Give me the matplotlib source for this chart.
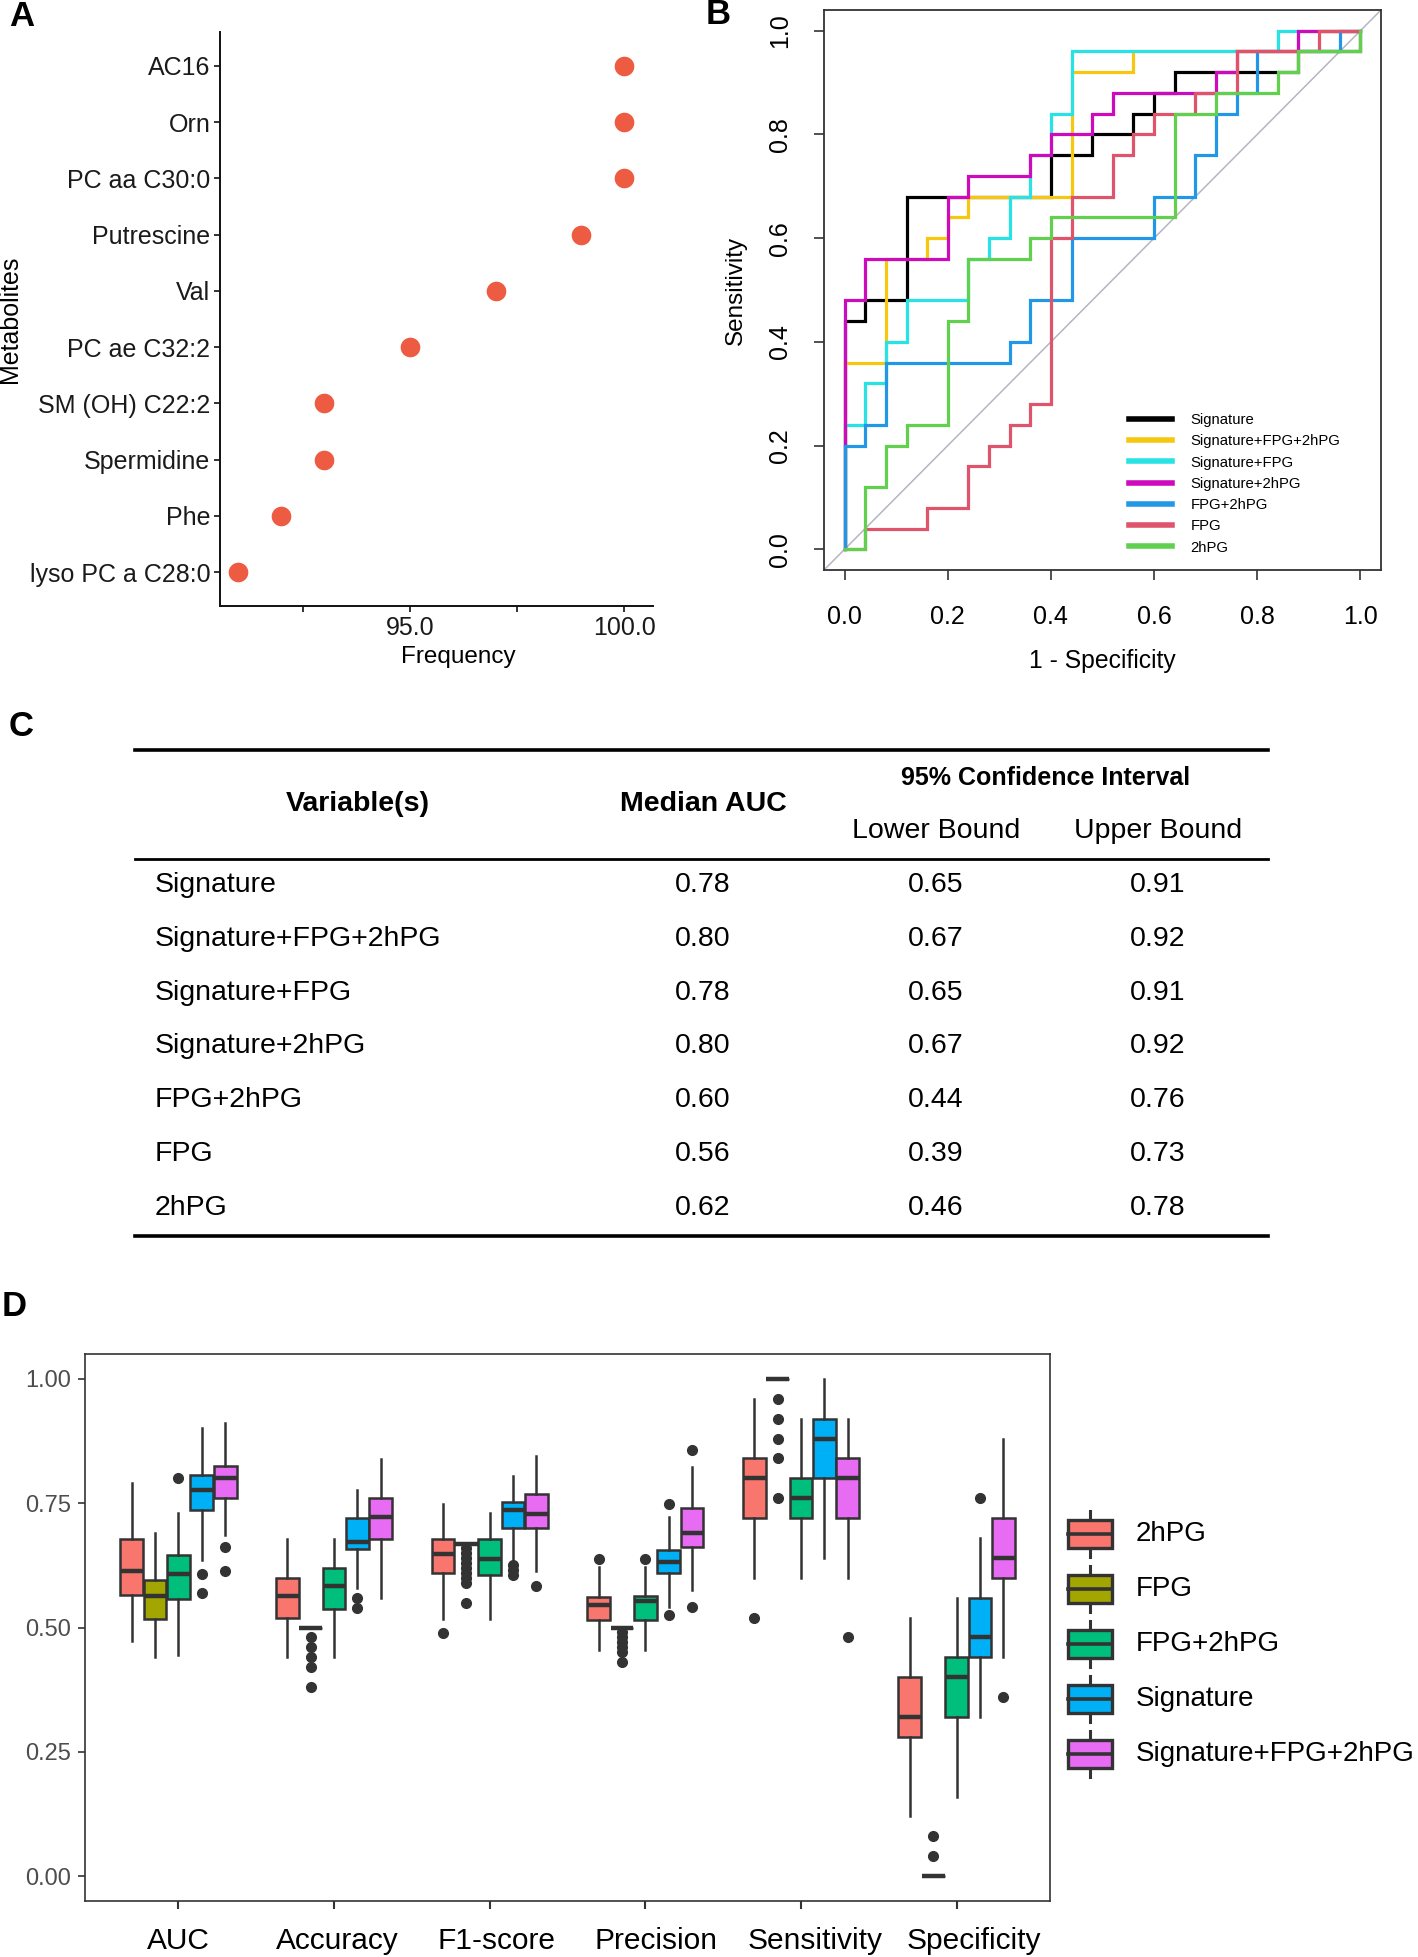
import matplotlib
matplotlib.use("Agg")
import matplotlib.pyplot as plt
from matplotlib.patches import Rectangle
from matplotlib.lines import Line2D
from matplotlib import font_manager, transforms
import numpy as np

plt.rcParams['font.family'] = ['Liberation Sans', 'DejaVu Sans']

W, H = 1418, 1957

# ---------------- Panel A data ----------------
metabolites = ['AC16', 'Orn', 'PC aa C30:0', 'Putrescine', 'Val', 'PC ae C32:2',
               'SM (OH) C22:2', 'Spermidine', 'Phe', 'lyso PC a C28:0']
frequency = [100, 100, 100, 99, 97, 95, 93, 93, 92, 91]
freq_ticks = [92.5, 95.0, 97.5, 100.0]
freq_ticklabels = ['', '95.0', '', '100.0']

# ---------------- Panel B data (ROC step vertices) ----------------
roc_names = ['Signature', 'Signature+FPG+2hPG', 'Signature+FPG', 'Signature+2hPG',
             'FPG+2hPG', 'FPG', '2hPG']
roc_colors = ['#000000', '#F5C710', '#28E2E5', '#CD0BBC', '#2297E6', '#DF536B', '#61D04F']
fpr_signature = [0, 0, 0.04, 0.04, 0.12, 0.12, 0.40, 0.40, 0.48, 0.48, 0.56, 0.56, 0.60, 0.60,
                 0.64, 0.64, 0.84, 0.84, 0.88, 0.88, 1.0, 1.0]
tpr_signature = [0, 0.44, 0.44, 0.48, 0.48, 0.68, 0.68, 0.76, 0.76, 0.80, 0.80, 0.84, 0.84, 0.88,
                 0.88, 0.92, 0.92, 0.92, 0.92, 0.96, 0.96, 1.0]
fpr_sig_fpg_2hpg = [0, 0, 0.08, 0.08, 0.16, 0.16, 0.20, 0.20, 0.24, 0.24, 0.44, 0.44, 0.56, 0.56,
                    0.88, 0.88, 1.0]
tpr_sig_fpg_2hpg = [0, 0.36, 0.36, 0.56, 0.56, 0.60, 0.60, 0.64, 0.64, 0.68, 0.68, 0.92, 0.92,
                    0.96, 0.96, 1.0, 1.0]
fpr_sig_fpg = [0, 0, 0.04, 0.04, 0.08, 0.08, 0.12, 0.12, 0.24, 0.24, 0.28, 0.28, 0.32, 0.32,
               0.36, 0.36, 0.40, 0.40, 0.44, 0.44, 0.84, 0.84, 1.0]
tpr_sig_fpg = [0, 0.24, 0.24, 0.32, 0.32, 0.40, 0.40, 0.48, 0.48, 0.56, 0.56, 0.60, 0.60, 0.68,
               0.68, 0.76, 0.76, 0.84, 0.84, 0.96, 0.96, 1.0, 1.0]
fpr_sig_2hpg = [0, 0, 0.04, 0.04, 0.20, 0.20, 0.24, 0.24, 0.36, 0.36, 0.40, 0.40, 0.48, 0.48,
                0.52, 0.52, 0.72, 0.72, 0.76, 0.76, 0.88, 0.88, 1.0]
tpr_sig_2hpg = [0, 0.48, 0.48, 0.56, 0.56, 0.68, 0.68, 0.72, 0.72, 0.76, 0.76, 0.80, 0.80, 0.84,
                0.84, 0.88, 0.88, 0.92, 0.92, 0.96, 0.96, 1.0, 1.0]
fpr_fpg_2hpg = [0, 0, 0.04, 0.04, 0.08, 0.08, 0.32, 0.32, 0.36, 0.36, 0.44, 0.44, 0.60, 0.60,
                0.68, 0.68, 0.72, 0.72, 0.76, 0.76, 0.80, 0.80, 0.96, 0.96, 1.0]
tpr_fpg_2hpg = [0, 0.20, 0.20, 0.24, 0.24, 0.36, 0.36, 0.40, 0.40, 0.48, 0.48, 0.60, 0.60, 0.68,
                0.68, 0.76, 0.76, 0.84, 0.84, 0.88, 0.88, 0.96, 0.96, 1.0, 1.0]
fpr_fpg = [0, 0.04, 0.04, 0.16, 0.16, 0.24, 0.24, 0.28, 0.28, 0.32, 0.32, 0.36, 0.36, 0.40, 0.40,
           0.44, 0.44, 0.52, 0.52, 0.56, 0.56, 0.60, 0.60, 0.68, 0.68, 0.76, 0.76, 0.92, 0.92, 1.0]
tpr_fpg = [0, 0, 0.04, 0.04, 0.08, 0.08, 0.16, 0.16, 0.20, 0.20, 0.24, 0.24, 0.28, 0.28, 0.60,
           0.60, 0.68, 0.68, 0.76, 0.76, 0.80, 0.80, 0.84, 0.84, 0.88, 0.88, 0.96, 0.96, 1.0, 1.0]
fpr_2hpg = [0, 0.04, 0.04, 0.08, 0.08, 0.12, 0.12, 0.20, 0.20, 0.24, 0.24, 0.36, 0.36, 0.40, 0.40,
            0.64, 0.64, 0.72, 0.72, 0.84, 0.84, 0.88, 0.88, 1.0, 1.0]
tpr_2hpg = [0, 0, 0.12, 0.12, 0.20, 0.20, 0.24, 0.24, 0.44, 0.44, 0.56, 0.56, 0.60, 0.60, 0.64,
            0.64, 0.84, 0.84, 0.88, 0.88, 0.92, 0.92, 0.96, 0.96, 1.0]
roc_fpr = [fpr_signature, fpr_sig_fpg_2hpg, fpr_sig_fpg, fpr_sig_2hpg, fpr_fpg_2hpg, fpr_fpg, fpr_2hpg]
roc_tpr = [tpr_signature, tpr_sig_fpg_2hpg, tpr_sig_fpg, tpr_sig_2hpg, tpr_fpg_2hpg, tpr_fpg, tpr_2hpg]

# ---------------- Panel C data ----------------
table_vars = ['Signature', 'Signature+FPG+2hPG', 'Signature+FPG', 'Signature+2hPG',
              'FPG+2hPG', 'FPG', '2hPG']
median_auc = ['0.78', '0.80', '0.78', '0.80', '0.60', '0.56', '0.62']
lower_bound = ['0.65', '0.67', '0.65', '0.67', '0.44', '0.39', '0.46']
upper_bound = ['0.91', '0.92', '0.91', '0.92', '0.76', '0.73', '0.78']

# ---------------- Panel D data (box statistics) ----------------
metrics = ['AUC', 'Accuracy', 'F1-score', 'Precision', 'Sensitivity', 'Specificity']
groups = ['2hPG', 'FPG', 'FPG+2hPG', 'Signature', 'Signature+FPG+2hPG']
group_colors = ['#F8766D', '#A3A500', '#00BF7D', '#00B0F6', '#E76BF3']
whislo = [[0.472, 0.440, 0.444, 0.636, 0.686],
          [0.440, 0.500, 0.440, 0.580, 0.560],
          [0.518, 0.667, 0.518, 0.630, 0.614],
          [0.454, 0.500, 0.454, 0.542, 0.576],
          [0.600, 1.000, 0.600, 0.640, 0.600],
          [0.120, 0.000, 0.160, 0.320, 0.440]]
q1 = [[0.566, 0.518, 0.558, 0.736, 0.761],
      [0.520, 0.500, 0.538, 0.658, 0.678],
      [0.609, 0.667, 0.605, 0.700, 0.700],
      [0.516, 0.500, 0.516, 0.610, 0.662],
      [0.720, 1.000, 0.720, 0.800, 0.720],
      [0.280, 0.000, 0.320, 0.440, 0.600]]
med = [[0.614, 0.564, 0.608, 0.776, 0.800],
       [0.564, 0.500, 0.584, 0.672, 0.722],
       [0.648, 0.667, 0.637, 0.737, 0.728],
       [0.545, 0.500, 0.554, 0.632, 0.690],
       [0.800, 1.000, 0.760, 0.880, 0.800],
       [0.320, 0.000, 0.400, 0.480, 0.640]]
q3 = [[0.677, 0.595, 0.646, 0.806, 0.825],
      [0.600, 0.500, 0.619, 0.720, 0.760],
      [0.677, 0.667, 0.677, 0.752, 0.768],
      [0.562, 0.500, 0.564, 0.656, 0.740],
      [0.840, 1.000, 0.800, 0.920, 0.840],
      [0.400, 0.000, 0.440, 0.560, 0.720]]
whishi = [[0.790, 0.690, 0.730, 0.901, 0.911],
          [0.678, 0.500, 0.678, 0.777, 0.838],
          [0.748, 0.667, 0.730, 0.805, 0.844],
          [0.622, 0.500, 0.622, 0.722, 0.822],
          [0.960, 1.000, 0.920, 1.000, 0.920],
          [0.520, 0.000, 0.560, 0.680, 0.880]]
fliers = [[[], [], [0.80], [0.608, 0.570], [0.662, 0.614]],
          [[], [0.48, 0.46, 0.44, 0.42, 0.38], [], [0.56, 0.54], []],
          [[0.489], [0.66, 0.65, 0.64, 0.63, 0.62, 0.61, 0.60, 0.59, 0.55], [], [0.625, 0.615, 0.605], [0.584]],
          [[0.637], [0.49, 0.48, 0.47, 0.46, 0.45, 0.43], [0.637], [0.749, 0.526], [0.856, 0.542]],
          [[0.52], [0.96, 0.92, 0.88, 0.84, 0.76], [], [], [0.48]],
          [[], [0.08, 0.04], [], [0.76], [0.36]]]

fig = plt.figure(figsize=(W / 100, H / 100), dpi=100)


def ax_px(l, t, r, b):
    return fig.add_axes([l / W, 1 - b / H, (r - l) / W, (b - t) / H])


def ftext(x, y, s, **kw):
    return fig.text(x / W, 1 - y / H, s, **kw)


# overlay axes in pixel coordinates (table + legend of D)
axC = fig.add_axes([0, 0, 1, 1], zorder=-1)
axC.set_xlim(0, W)
axC.set_ylim(H, 0)
axC.axis('off')

# ================= Panel A =================
axA = ax_px(220, 32, 653, 606)
n = len(metabolites)
ypos = np.arange(n)[::-1]
axA.scatter(frequency, ypos, s=200, color='#EE5B43', zorder=3, linewidths=0)
axA.set_ylim(-0.6, n - 1 + 0.6)
axA.set_xlim(90.57, 100.67)
axA.set_yticks(ypos)
axA.set_yticklabels(metabolites, fontsize=18, color='#1a1a1a')
axA.set_xticks(freq_ticks)
axA.set_xticklabels(freq_ticklabels, fontsize=18, color='#1a1a1a')
for s in ['top', 'right']:
    axA.spines[s].set_visible(False)
for s in ['left', 'bottom']:
    axA.spines[s].set_linewidth(1.4)
    axA.spines[s].set_color('#111111')
axA.tick_params(length=4, width=1.2, color='#111111', pad=3)
ftext(458, 657, 'Frequency', fontsize=17.5, ha='center', va='center')
ftext(10, 319, 'Metabolites', fontsize=18, rotation=90, ha='center', va='center')

# ================= Panel B =================
axB = ax_px(824, 10, 1381, 570)
axB.plot([-0.04, 1.04], [-0.04, 1.04], color='#B5B5C3', lw=1.1, zorder=1)
for fx, ty, c in zip(roc_fpr, roc_tpr, roc_colors):
    axB.plot(fx, ty, color=c, lw=2.3, solid_joinstyle='miter', zorder=2)
axB.set_xlim(-0.04, 1.04)
axB.set_ylim(-0.04, 1.04)
ticksB = np.arange(0, 1.01, 0.2)
axB.set_xticks(ticksB)
axB.set_xticklabels(['%.1f' % t for t in ticksB], fontsize=18)
axB.set_yticks(ticksB)
axB.set_yticklabels(['%.1f' % t for t in ticksB], fontsize=18, rotation=90, va='center')
for s in axB.spines.values():
    s.set_linewidth(1.3)
    s.set_color('#333333')
axB.tick_params(axis='x', length=7, width=1.2, color='#333333', pad=18)
axB.tick_params(axis='y', length=7, width=1.2, color='#333333', pad=16)
ftext(1102, 661, '1 - Specificity', fontsize=17.8, ha='center', va='center')
ftext(736, 290, 'Sensitivity', fontsize=17.5, rotation=90, ha='center', va='center')
handlesB = [Line2D([0], [0], color=c, lw=4) for c in roc_colors]
axB.legend(handlesB, roc_names, loc='upper left', bbox_to_anchor=(1129 / W, 1 - 413 / H),
           bbox_transform=fig.transFigure, frameon=False, fontsize=10.7, handlelength=2.9,
           handletextpad=1.25, labelspacing=0.49, borderpad=0, borderaxespad=0)

# ================= Panel C =================
avail = {f.name for f in font_manager.fontManager.ttflist}
if 'Liberation Sans Narrow' in avail:
    tfont, tsize, hsize, csize = ['Liberation Sans Narrow', 'Liberation Sans'], 25, 25, 22
else:
    tfont, tsize, hsize, csize = ['Liberation Sans', 'DejaVu Sans'], 20.5, 20.5, 18
x_l, x_r = 135, 1268
axC.plot([x_l, x_r], [750, 750], color='black', lw=2.6)
axC.plot([x_l, x_r], [859, 859], color='black', lw=2.0)
axC.plot([x_l, x_r], [1236, 1236], color='black', lw=2.6)
axC.text(358, 804, 'Variable(s)', family=tfont, fontsize=hsize, fontweight='bold', ha='center', va='center')
axC.text(703, 804, 'Median AUC', family=tfont, fontsize=hsize, fontweight='bold', ha='center', va='center')
axC.text(1046, 778, '95% Confidence Interval', family=tfont, fontsize=csize, fontweight='bold', ha='center', va='center')
axC.text(936, 831, 'Lower Bound', family=tfont, fontsize=tsize, ha='center', va='center')
axC.text(1158, 831, 'Upper Bound', family=tfont, fontsize=tsize, ha='center', va='center')
row0, drow = 885, 53.8
for i, (v, m, lo, up) in enumerate(zip(table_vars, median_auc, lower_bound, upper_bound)):
    yy = row0 + i * drow
    axC.text(155, yy, v, family=tfont, fontsize=tsize, ha='left', va='center')
    axC.text(703, yy, m, family=tfont, fontsize=tsize, ha='center', va='center')
    axC.text(936, yy, lo, family=tfont, fontsize=tsize, ha='center', va='center')
    axC.text(1158, yy, up, family=tfont, fontsize=tsize, ha='center', va='center')

# ================= Panel D =================
axD = ax_px(85, 1354, 1050, 1901)
ng = len(groups)
bw = 0.15
edge = '#333333'
for i, mname in enumerate(metrics):
    for j in range(ng):
        st = dict(whislo=whislo[i][j], q1=q1[i][j], med=med[i][j], q3=q3[i][j],
                  whishi=whishi[i][j], fliers=fliers[i][j])
        pos = i + 1 + (j - (ng - 1) / 2) * bw
        axD.bxp([st], positions=[pos], widths=bw * 0.98, patch_artist=True, showcaps=False,
                boxprops=dict(facecolor=group_colors[j], edgecolor=edge, linewidth=1.8),
                medianprops=dict(color=edge, linewidth=3.2, solid_capstyle='butt'),
                whiskerprops=dict(color=edge, linewidth=1.8),
                flierprops=dict(marker='o', markerfacecolor=edge, markeredgecolor=edge,
                                markersize=7, linestyle='none'),
                manage_ticks=False)
axD.set_xlim(0.4, len(metrics) + 0.6)
axD.set_ylim(-0.05, 1.05)
xcat = np.arange(1, len(metrics) + 1)
axD.set_xticks(xcat)
axD.set_xticklabels([''] * len(metrics))
# category labels (in the original they sit slightly right of the ticks, increasingly so)
lab_tr = transforms.blended_transform_factory(axD.transData, axD.transAxes)
for k, mname in enumerate(metrics):
    axD.text(xcat[k] + 0.022 * k, -0.074, mname, transform=lab_tr, fontsize=21.5,
             ha='center', va='center', color='black')
yt = [0, 0.25, 0.5, 0.75, 1.0]
axD.set_yticks(yt)
axD.set_yticklabels(['%.2f' % t for t in yt], fontsize=17, color='#4D4D4D')
for s in axD.spines.values():
    s.set_linewidth(1.2)
    s.set_color('#333333')
axD.tick_params(axis='x', length=6, width=1.5, color='#333333')
axD.tick_params(axis='y', length=5, width=1.2, color='#333333', pad=5)

# legend of D (ggplot-style boxplot keys), laid out in pixel units
key_x, key_w, key_h, whisk = 1068, 44, 28, 9
leg_y0, leg_dy = 1534, 55
for j, (g, c) in enumerate(zip(groups, group_colors)):
    yc = leg_y0 + j * leg_dy
    cx = key_x + key_w / 2
    axC.plot([cx, cx], [yc - key_h / 2 - whisk, yc + key_h / 2 + whisk], color=edge, lw=2.2, zorder=1)
    axC.add_patch(Rectangle((key_x, yc - key_h / 2), key_w, key_h, facecolor=c, edgecolor=edge,
                            lw=2.4, zorder=2))
    axC.plot([key_x, key_x + key_w], [yc, yc], color=edge, lw=2.6, zorder=3)
    axC.text(1136, yc, g, fontsize=20, ha='left', va='center')

# ================= Panel labels =================
for lab, (x, y) in zip(['A', 'B', 'C', 'D'], [(22, 17), (718, 15), (21, 727), (14, 1306)]):
    ftext(x, y, lab, fontsize=25, fontweight='bold', ha='center', va='center')

fig.savefig('out.png', dpi=100)
